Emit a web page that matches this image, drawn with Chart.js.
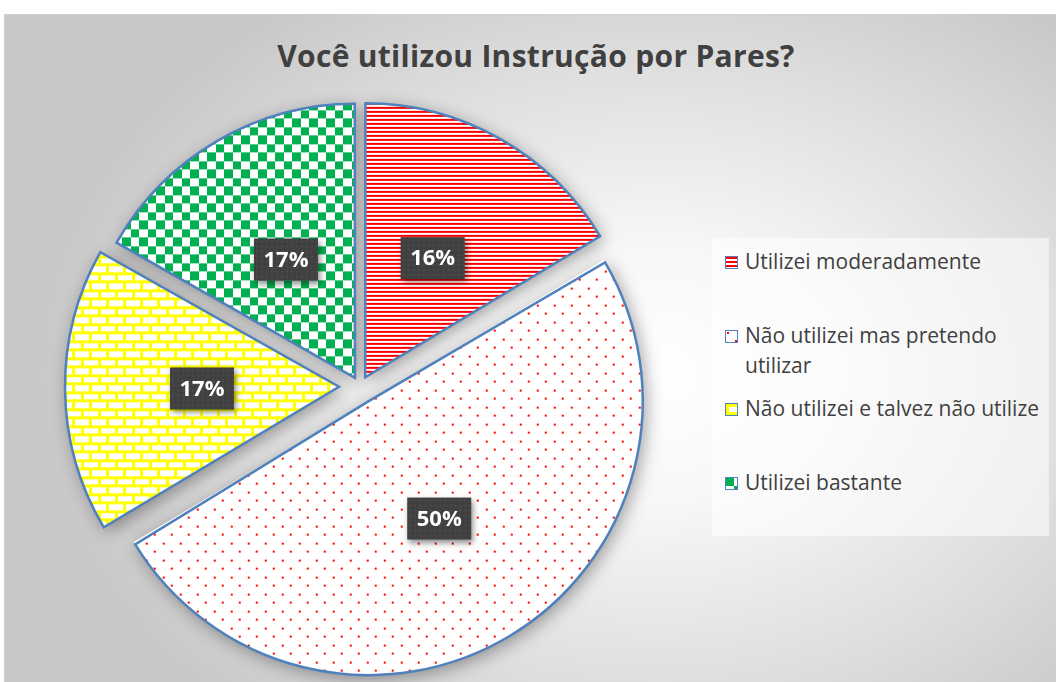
<!DOCTYPE html>
<html><head><meta charset="utf-8">
<script src="https://cdn.jsdelivr.net/npm/chart.js@4/dist/chart.umd.min.js"></script>
<style>
html,body{margin:0;padding:0;width:1056px;height:682px;overflow:hidden;background:#fff;}
#frame{position:absolute;left:4px;top:14px;width:1052px;height:668px;box-sizing:border-box;border-left:1px solid #cfcfcf;border-top:1px solid #cfcfcf;
 background:radial-gradient(ellipse 620px 460px at 650px 360px,#ffffff 0%,#f7f7f7 28%,#dedede 68%,#c8c8c8 100%);}
#title{position:absolute;left:186px;width:700px;top:36px;text-align:center;font-family:'Open Sans';font-weight:bold;font-size:30px;line-height:40px;letter-spacing:0.3px;color:#404040;white-space:nowrap;}
#legendBox{position:absolute;left:712px;top:238px;width:337px;height:298px;background:rgba(255,255,255,0.55);}
.item{position:absolute;left:745px;width:305px;font-family:'Open Sans';font-size:21px;line-height:30px;color:#404040;}
.sw{position:absolute;left:725px;width:13px;height:13px;box-sizing:border-box;border:1px solid #4f81bd;}
#c{position:absolute;left:0;top:0;}
</style></head>
<body>
<div id="frame"></div>
<div id="title"></div>
<div id="legendBox"></div>
<div id="legend"></div>
<canvas id="c" width="1056" height="682"></canvas>
<script>
const chartTitle = 'Você utilizou Instrução por Pares?';
const categories = ['Utilizei moderadamente', 'Não utilizei mas pretendo utilizar', 'Não utilizei e talvez não utilize', 'Utilizei bastante'];
const values = [16.4, 50, 16.8, 16.8];

function makePattern(kind){
  const t = document.createElement('canvas');
  const g = t.getContext('2d');
  if(kind==='stripes'){
    t.width=4; t.height=4;
    g.fillStyle='#fff'; g.fillRect(0,0,4,4);
    g.fillStyle='#ff0000'; g.fillRect(0,0,4,2);
  } else if(kind==='dots'){
    t.width=17; t.height=17;
    g.fillStyle='#fff'; g.fillRect(0,0,17,17);
    g.fillStyle='#ff0000'; g.fillRect(1,1,2,2); g.fillRect(9,9,2,2);
  } else if(kind==='brick'){
    t.width=17; t.height=17;
    g.fillStyle='#fff'; g.fillRect(0,0,17,17);
    g.fillStyle='#ffff00';
    g.fillRect(0,0,17,3); g.fillRect(0,8,17,3);
    g.fillRect(0,3,3,5); g.fillRect(8,11,3,6);
  } else {
    t.width=17; t.height=17;
    g.fillStyle='#fff'; g.fillRect(0,0,17,17);
    g.fillStyle='#00b050'; g.fillRect(0,0,8,8); g.fillRect(8,8,9,9);
  }
  return t;
}
const kinds = ['stripes','dots','brick','checker'];
const tiles = kinds.map(makePattern);
const ctx = document.getElementById('c').getContext('2d');
const patterns = tiles.map(t => ctx.createPattern(t,'repeat'));

document.getElementById('title').textContent = chartTitle;
const legend = document.getElementById('legend');
const legendBaselines = [269, 343, 416, 490];
categories.forEach((c,i)=>{
  const d = document.createElement('div');
  d.className='item'; d.style.top=(legendBaselines[i]-23)+'px'; d.textContent=c;
  legend.appendChild(d);
  const s = document.createElement('canvas');
  s.width=11; s.height=11; s.className='sw'; s.style.top=(legendBaselines[i]-13)+'px';
  const sg = s.getContext('2d'); sg.fillStyle = sg.createPattern(tiles[i],'repeat'); sg.fillRect(0,0,11,11);
  legend.appendChild(s);
});

const baseR = 274;
const total = values.reduce((a,b)=>a+b,0);
const piePlugin = {
  id:'pieExtras',
  beforeDatasetsDraw(chart){
    const meta = chart.getDatasetMeta(0);
    const c = chart.ctx;
    meta.data.forEach(arc=>{
      const off = (arc.options.offset||0)/4;
      const fix = 1 - Math.sin(Math.min(Math.PI, arc.circumference));
      arc.outerRadius = baseR - off*fix;
    });
    c.save();
    c.shadowColor='rgba(0,0,0,0.38)'; c.shadowBlur=18; c.shadowOffsetX=3; c.shadowOffsetY=4;
    c.fillStyle='#ffffff';
    meta.data.forEach(arc=>{
      const off=(arc.options.offset||0)/4;
      const h=(arc.startAngle+arc.endAngle)/2;
      const cx=arc.x+Math.cos(h)*off, cy=arc.y+Math.sin(h)*off;
      c.beginPath(); c.moveTo(cx,cy); c.arc(cx,cy,baseR,arc.startAngle,arc.endAngle); c.closePath(); c.fill();
    });
    c.restore();
  },
  afterDatasetsDraw(chart){
    const meta = chart.getDatasetMeta(0);
    const c = chart.ctx;
    meta.data.forEach((arc,i)=>{
      const off=(arc.options.offset||0)/4;
      const h=(arc.startAngle+arc.endAngle)/2;
      const dist = baseR/2 + off;
      const x=arc.x+Math.cos(h)*dist, y=arc.y+Math.sin(h)*dist;
      const w=64, hh=42;
      c.save();
      c.shadowColor='rgba(0,0,0,0.45)'; c.shadowBlur=6; c.shadowOffsetX=2; c.shadowOffsetY=3;
      c.fillStyle='#404040';
      c.fillRect(x-w/2,y-hh/2,w,hh);
      c.restore();
      c.save();
      c.fillStyle='rgba(255,255,255,0.06)';
      for(let yy=y-hh/2+2; yy<y+hh/2; yy+=5){ for(let xx=x-w/2+2; xx<x+w/2; xx+=5){ c.fillRect(xx,yy,2,2);} }
      c.fillStyle='#ffffff';
      c.font="bold 22px 'Open Sans'";
      c.textAlign='center'; c.textBaseline='middle';
      c.fillText(Math.round(values[i]/total*100)+'%', x, y+1);
      c.restore();
    });
  }
};

new Chart(ctx,{
  type:'pie',
  data:{labels:categories,datasets:[{
    data:values,
    backgroundColor:patterns,
    borderColor:'#4f81bd',
    borderWidth:2.5,
    borderJoinStyle:'miter',
    offset:[42,68,84,40],
    radius:baseR,
    hoverOffset:0
  }]},
  options:{
    responsive:false,
    animation:false,
    layout:{padding:{left:12,right:348,top:93,bottom:2}},
    plugins:{legend:{display:false},title:{display:false},tooltip:{enabled:false}},
    events:[]
  },
  plugins:[piePlugin]
});
</script>
</body></html>
